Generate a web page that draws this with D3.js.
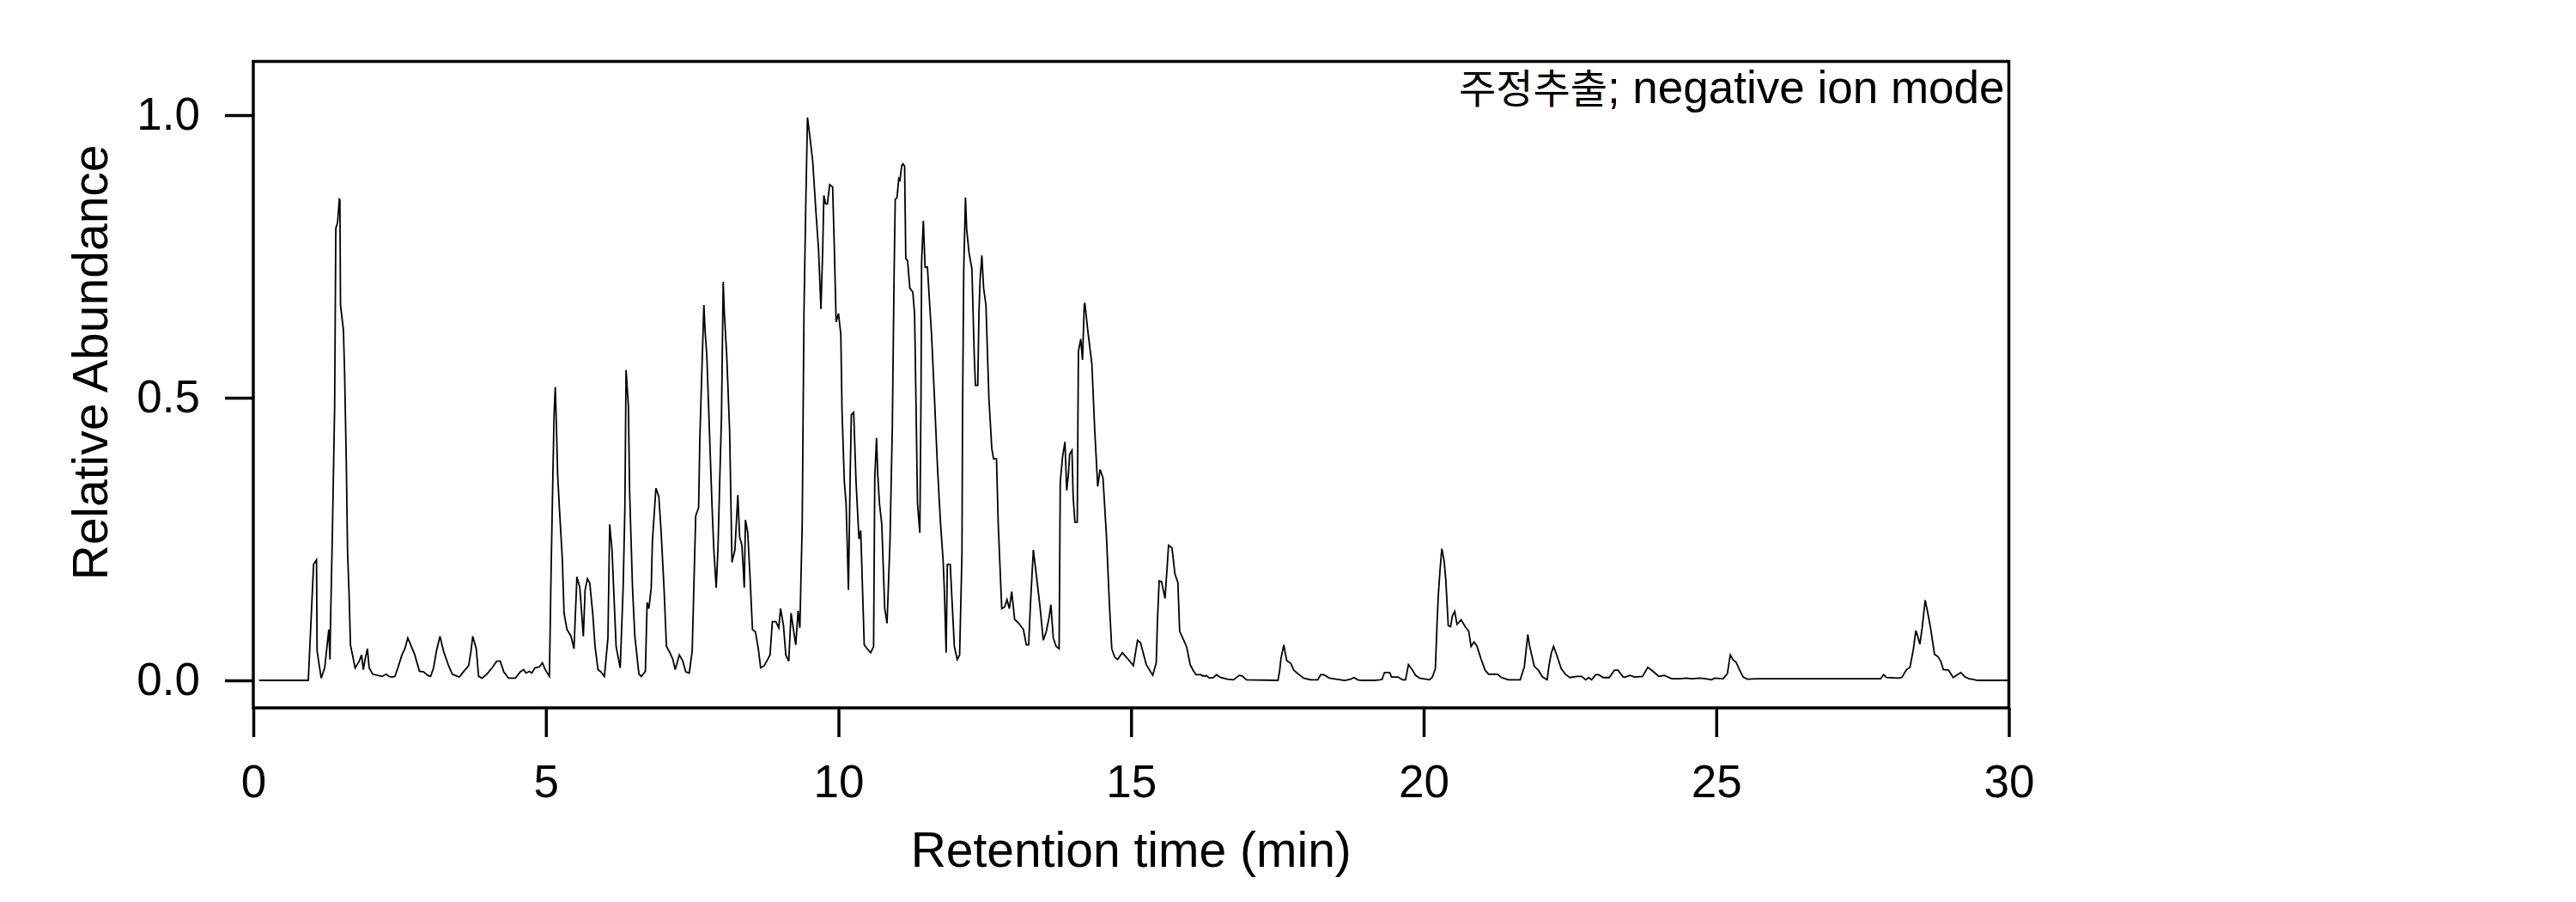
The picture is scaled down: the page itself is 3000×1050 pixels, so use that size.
<!DOCTYPE html>
<html>
<head>
<meta charset="utf-8">
<script src="https://cdn.jsdelivr.net/npm/d3@7"></script>
<style>
  html, body { margin: 0; padding: 0; background: #fff; }
  text { font-family: "Liberation Sans", Arial, "Noto Sans CJK KR", sans-serif; fill: #000; }
</style>
</head>
<body>
<div id="chart"></div>
<script>
// Chromatogram trace (retention time in min, relative abundance).
const retentionTime = [
  0.10, 0.94, 1.03, 1.08, 1.09, 1.16, 1.22, 1.29, 1.31, 1.32, 1.35, 1.39, 1.41, 1.44, 1.47, 1.48,
  1.49, 1.54, 1.56, 1.59, 1.61, 1.64, 1.66, 1.74, 1.81, 1.85, 1.88, 1.91, 1.95, 1.98, 2.04, 2.20,
  2.27, 2.32, 2.37, 2.42, 2.47, 2.54, 2.59, 2.64, 2.69, 2.76, 2.84, 2.91, 2.98, 3.03, 3.08, 3.13,
  3.19, 3.25, 3.33, 3.40, 3.52, 3.59, 3.68, 3.72, 3.75, 3.81, 3.85, 3.91, 3.99, 4.08, 4.16, 4.22,
  4.28, 4.36, 4.48, 4.56, 4.62, 4.66, 4.72, 4.76, 4.81, 4.89, 4.94, 4.99, 5.06, 5.09, 5.12, 5.14,
  5.16, 5.18, 5.20, 5.23, 5.28, 5.31, 5.36, 5.43, 5.48, 5.53, 5.58, 5.64, 5.67, 5.71, 5.75, 5.80,
  5.84, 5.89, 5.94, 6.00, 6.06, 6.09, 6.13, 6.16, 6.20, 6.27, 6.32, 6.35, 6.37, 6.41, 6.43, 6.48,
  6.52, 6.59, 6.63, 6.70, 6.73, 6.76, 6.80, 6.82, 6.88, 6.93, 6.97, 7.02, 7.06, 7.12, 7.17, 7.21,
  7.28, 7.34, 7.39, 7.45, 7.50, 7.56, 7.61, 7.63, 7.66, 7.70, 7.72, 7.75, 7.79, 7.84, 7.87, 7.91,
  7.94, 7.97, 8.00, 8.03, 8.05, 8.09, 8.14, 8.18, 8.23, 8.28, 8.31, 8.35, 8.39, 8.41, 8.45, 8.49,
  8.53, 8.58, 8.63, 8.67, 8.73, 8.79, 8.83, 8.87, 8.93, 8.98, 9.01, 9.06, 9.10, 9.15, 9.19, 9.22,
  9.27, 9.31, 9.34, 9.38, 9.41, 9.44, 9.47, 9.51, 9.56, 9.61, 9.66, 9.70, 9.73, 9.75, 9.78, 9.81,
  9.85, 9.90, 9.93, 9.96, 10.00, 10.04, 10.06, 10.10, 10.13, 10.15, 10.17, 10.20, 10.22, 10.26, 10.30, 10.35,
  10.38, 10.44, 10.49, 10.55, 10.60, 10.62, 10.65, 10.67, 10.70, 10.74, 10.79, 10.83, 10.88, 10.92, 10.95, 10.97,
  11.00, 11.03, 11.05, 11.08, 11.10, 11.13, 11.15, 11.18, 11.22, 11.27, 11.30, 11.32, 11.35, 11.39, 11.41, 11.42,
  11.45, 11.48, 11.52, 11.55, 11.59, 11.64, 11.69, 11.74, 11.79, 11.81, 11.84, 11.86, 11.91, 11.94, 11.98, 12.03,
  12.07, 12.11, 12.12, 12.14, 12.17, 12.19, 12.23, 12.28, 12.32, 12.34, 12.38, 12.40, 12.42, 12.45, 12.48, 12.52,
  12.57, 12.62, 12.65, 12.70, 12.73, 12.79, 12.84, 12.88, 12.92, 12.96, 13.01, 13.08, 13.16, 13.21, 13.25, 13.28,
  13.33, 13.38, 13.44, 13.50, 13.55, 13.60, 13.63, 13.67, 13.72, 13.77, 13.79, 13.83, 13.87, 13.90, 13.93, 13.95,
  13.99, 14.01, 14.04, 14.08, 14.10, 14.14, 14.17, 14.20, 14.21, 14.26, 14.33, 14.38, 14.43, 14.47, 14.52, 14.58,
  14.63, 14.67, 14.72, 14.77, 14.85, 14.92, 15.04, 15.11, 15.16, 15.26, 15.37, 15.43, 15.45, 15.48, 15.52, 15.58,
  15.62, 15.64, 15.70, 15.75, 15.80, 15.83, 15.90, 15.95, 16.01, 16.06, 16.11, 16.19, 16.22, 16.29, 16.34, 16.41,
  16.46, 16.53, 16.65, 16.75, 16.85, 16.90, 16.97, 17.51, 17.54, 17.56, 17.61, 17.63, 17.66, 17.73, 17.78, 17.85,
  17.95, 18.07, 18.19, 18.24, 18.29, 18.39, 18.51, 18.65, 18.75, 18.81, 18.87, 18.95, 19.15, 19.25, 19.29, 19.33,
  19.42, 19.45, 19.56, 19.64, 19.69, 19.74, 19.81, 19.86, 19.93, 20.10, 20.15, 20.20, 20.23, 20.25, 20.28, 20.31,
  20.35, 20.38, 20.42, 20.46, 20.49, 20.53, 20.57, 20.64, 20.71, 20.77, 20.81, 20.86, 20.91, 20.98, 21.05, 21.11,
  21.26, 21.33, 21.45, 21.65, 21.72, 21.78, 21.81, 21.89, 21.96, 22.03, 22.11, 22.14, 22.18, 22.22, 22.27, 22.35,
  22.43, 22.50, 22.62, 22.70, 22.77, 22.82, 22.87, 22.94, 22.99, 23.07, 23.17, 23.26, 23.32, 23.41, 23.45, 23.53,
  23.60, 23.74, 23.83, 23.92, 24.02, 24.11, 24.24, 24.38, 24.48, 24.58, 24.72, 24.82, 24.92, 24.97, 25.12, 25.19,
  25.24, 25.29, 25.34, 25.40, 25.46, 25.53, 25.70, 26.88, 27.81, 27.86, 27.91, 28.10, 28.17, 28.25, 28.31, 28.37,
  28.41, 28.44, 28.48, 28.52, 28.57, 28.61, 28.66, 28.73, 28.79, 28.84, 28.88, 28.97, 29.05, 29.12, 29.18, 29.25,
  29.32, 29.37, 29.47, 30.00
];
const abundance = [
  0.000, 0.000, 0.205, 0.213, 0.052, 0.004, 0.022, 0.090, 0.037, 0.104, 0.254, 0.485, 0.800, 0.810, 0.851, 0.850,
  0.664, 0.620, 0.545, 0.380, 0.231, 0.142, 0.063, 0.022, 0.034, 0.045, 0.019, 0.037, 0.056, 0.022, 0.011, 0.007,
  0.011, 0.007, 0.006, 0.007, 0.022, 0.045, 0.056, 0.075, 0.063, 0.045, 0.016, 0.015, 0.009, 0.007, 0.022, 0.052,
  0.078, 0.052, 0.028, 0.011, 0.006, 0.015, 0.026, 0.052, 0.078, 0.056, 0.007, 0.004, 0.011, 0.022, 0.034, 0.034,
  0.015, 0.004, 0.004, 0.015, 0.019, 0.013, 0.016, 0.013, 0.022, 0.024, 0.031, 0.019, 0.007, 0.200, 0.366, 0.470,
  0.519, 0.450, 0.366, 0.306, 0.216, 0.119, 0.090, 0.078, 0.056, 0.183, 0.164, 0.078, 0.160, 0.180, 0.172, 0.119,
  0.060, 0.019, 0.015, 0.007, 0.075, 0.276, 0.231, 0.157, 0.060, 0.022, 0.164, 0.306, 0.549, 0.485, 0.336, 0.164,
  0.078, 0.011, 0.007, 0.016, 0.138, 0.127, 0.164, 0.246, 0.340, 0.325, 0.261, 0.160, 0.060, 0.049, 0.037, 0.019,
  0.045, 0.034, 0.015, 0.013, 0.052, 0.291, 0.306, 0.425, 0.530, 0.664, 0.619, 0.575, 0.455, 0.306, 0.231, 0.164,
  0.231, 0.351, 0.463, 0.705, 0.649, 0.575, 0.440, 0.209, 0.231, 0.328, 0.254, 0.239, 0.164, 0.284, 0.261, 0.179,
  0.090, 0.086, 0.056, 0.022, 0.026, 0.037, 0.045, 0.104, 0.104, 0.093, 0.127, 0.097, 0.045, 0.034, 0.119, 0.097,
  0.063, 0.123, 0.093, 0.276, 0.649, 0.836, 0.996, 0.963, 0.918, 0.836, 0.761, 0.657, 0.761, 0.858, 0.843, 0.843,
  0.877, 0.873, 0.761, 0.634, 0.649, 0.612, 0.478, 0.351, 0.313, 0.239, 0.160, 0.366, 0.470, 0.474, 0.351, 0.250,
  0.265, 0.063, 0.056, 0.049, 0.060, 0.358, 0.429, 0.366, 0.313, 0.276, 0.127, 0.101, 0.246, 0.448, 0.716, 0.851,
  0.854, 0.888, 0.885, 0.910, 0.914, 0.910, 0.746, 0.743, 0.694, 0.687, 0.649, 0.522, 0.313, 0.261, 0.500, 0.739,
  0.813, 0.731, 0.731, 0.679, 0.612, 0.500, 0.381, 0.284, 0.209, 0.157, 0.049, 0.205, 0.205, 0.142, 0.060, 0.037,
  0.045, 0.224, 0.470, 0.724, 0.854, 0.799, 0.757, 0.728, 0.575, 0.522, 0.522, 0.649, 0.709, 0.752, 0.694, 0.664,
  0.500, 0.410, 0.392, 0.392, 0.276, 0.127, 0.130, 0.143, 0.127, 0.157, 0.108, 0.101, 0.090, 0.063, 0.063, 0.134,
  0.231, 0.187, 0.134, 0.071, 0.086, 0.112, 0.134, 0.075, 0.060, 0.056, 0.351, 0.396, 0.422, 0.336, 0.366, 0.400,
  0.407, 0.325, 0.280, 0.280, 0.582, 0.604, 0.567, 0.664, 0.668, 0.619, 0.560, 0.440, 0.343, 0.373, 0.358, 0.254,
  0.134, 0.056, 0.041, 0.037, 0.049, 0.041, 0.026, 0.071, 0.067, 0.028, 0.009, 0.031, 0.104, 0.176, 0.175, 0.145,
  0.206, 0.239, 0.234, 0.188, 0.173, 0.087, 0.071, 0.059, 0.028, 0.018, 0.010, 0.010, 0.008, 0.008, 0.004, 0.005,
  0.010, 0.005, 0.002, 0.001, 0.009, 0.008, 0.001, 0.000, 0.018, 0.038, 0.063, 0.051, 0.035, 0.030, 0.018, 0.012,
  0.004, 0.001, 0.001, 0.010, 0.010, 0.004, 0.002, 0.000, 0.002, 0.005, 0.001, 0.000, 0.000, 0.001, 0.002, 0.014,
  0.014, 0.006, 0.006, 0.001, 0.001, 0.028, 0.018, 0.009, 0.004, 0.001, 0.006, 0.021, 0.104, 0.150, 0.196, 0.233,
  0.211, 0.175, 0.097, 0.095, 0.114, 0.122, 0.099, 0.107, 0.095, 0.087, 0.060, 0.068, 0.061, 0.038, 0.018, 0.011,
  0.011, 0.005, 0.001, 0.001, 0.024, 0.081, 0.061, 0.025, 0.018, 0.006, 0.001, 0.025, 0.048, 0.060, 0.046, 0.021,
  0.010, 0.005, 0.007, 0.007, 0.001, 0.005, 0.001, 0.010, 0.010, 0.005, 0.005, 0.018, 0.018, 0.006, 0.006, 0.009,
  0.006, 0.007, 0.023, 0.016, 0.007, 0.009, 0.003, 0.003, 0.004, 0.003, 0.004, 0.003, 0.001, 0.004, 0.003, 0.012,
  0.045, 0.036, 0.032, 0.018, 0.006, 0.002, 0.003, 0.003, 0.003, 0.010, 0.005, 0.004, 0.005, 0.019, 0.023, 0.056,
  0.088, 0.079, 0.064, 0.094, 0.142, 0.122, 0.094, 0.046, 0.042, 0.033, 0.019, 0.018, 0.005, 0.010, 0.014, 0.006,
  0.003, 0.002, 0.000, 0.000
];

// Axis ticks and labels.
const xTicks = [0, 5, 10, 15, 20, 25, 30];
const yTicks = [0, 0.5, 1.0];
const xTitle = "Retention time (min)";
const yTitle = "Relative Abundance";
const noteSample = "주정추출";
const noteMode = "; negative ion mode";

// Size of the SVG element and the plot box inside it.
const totalWidth = 3000;
const totalHeight = 1050;
const margin = {top: 71.5, right: 660.5, bottom: 226, left: 295};
const width = totalWidth - margin.left - margin.right;
const height = totalHeight - margin.top - margin.bottom;

const svg = d3.select("#chart")
  .append("svg")
  .attr("width", totalWidth)
  .attr("height", totalHeight)
  .append("g")
  .attr("transform", `translate(${margin.left}, ${margin.top})`);

// Scales.
const x = d3.scaleLinear().domain([0, 30]).range([0, width]);
const y = d3.scaleLinear().domain([-0.0486, 1.095]).range([height, 0]);

// X axis.
const xAxis = svg.append("g")
  .attr("transform", `translate(0, ${height})`)
  .call(d3.axisBottom(x).tickValues(xTicks).tickSize(34).tickPadding(32).tickFormat(d3.format("d")));
xAxis.select(".domain").remove();
xAxis.selectAll("line").attr("stroke", "#000").attr("stroke-width", 3.5);
xAxis.selectAll("text").style("font-size", "53px");

// Y axis.
const yAxis = svg.append("g")
  .call(d3.axisLeft(y).tickValues(yTicks).tickSize(33).tickPadding(29).tickFormat(d3.format(".1f")));
yAxis.select(".domain").remove();
yAxis.selectAll("line").attr("stroke", "#000").attr("stroke-width", 3.5);
yAxis.selectAll("text").style("font-size", "53px");

// Trace.
const trace = retentionTime.map((t, i) => ({t: t, v: abundance[i]}));
const line = d3.line().x(d => x(d.t)).y(d => y(d.v));

svg.append("path")
  .datum(trace)
  .attr("fill", "none")
  .attr("stroke", "#000")
  .attr("stroke-width", 1.8)
  .attr("stroke-linejoin", "miter")
  .attr("d", line);

// Plot frame.
svg.append("rect")
  .attr("x", 0)
  .attr("y", 0)
  .attr("width", width)
  .attr("height", height)
  .attr("fill", "none")
  .attr("stroke", "#000")
  .attr("stroke-width", 3.5);

// Titles.
svg.append("text")
  .attr("x", width / 2)
  .attr("y", 1009 - margin.top)
  .attr("text-anchor", "middle")
  .style("font-size", "57px")
  .text(xTitle);

svg.append("text")
  .attr("transform", `translate(${125 - margin.left}, ${422 - margin.top}) rotate(-90)`)
  .attr("text-anchor", "middle")
  .style("font-size", "57px")
  .text(yTitle);

// Sample note in the top right corner.
const noteText = svg.append("text")
  .attr("x", width - 5)
  .attr("y", 120 - margin.top)
  .attr("text-anchor", "end");
noteText.append("tspan")
  .style("font-family", "'Noto Sans CJK KR', sans-serif")
  .style("font-size", "47px")
  .text(noteSample);
noteText.append("tspan")
  .style("font-size", "53px")
  .text(noteMode);
</script>
</body>
</html>
